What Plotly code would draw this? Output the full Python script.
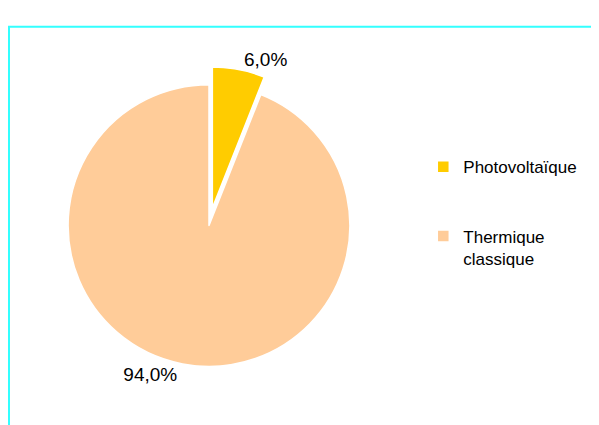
import plotly.graph_objects as go

# part de production électrique
names = ['Photovoltaïque', 'Thermique classique']
legend_labels = ['Photovoltaïque<br> <br> ', 'Thermique<br>classique']
values = [6.0, 94.0]
colors = ['#FFCC00', '#FFCC99']
pulls = [0.127, 0]

fig = go.Figure()

# la page ajoute une marge de 8 px : les positions ci-dessous en tiennent compte
fig.add_trace(go.Pie(
    labels=legend_labels,
    values=values,
    customdata=names,
    pull=pulls,
    sort=False,
    direction='clockwise',
    rotation=0,
    marker=dict(colors=colors, line=dict(color='white', width=1.5)),
    texttemplate='%{percent:.1%}',
    textposition='outside',
    outsidetextfont=dict(size=19, color='#000000'),
    domain=dict(x=[0.0628, 0.6083], y=[0.1179, 0.8868]),
    hovertemplate='%{customdata}<br>%{percent:.1%}<extra></extra>',
))

# cadre cyan (coupé à droite et en bas)
fig.add_shape(type='rect', xref='paper', yref='paper',
              x0=1 / 599, x1=1.1, y0=-0.1, y1=1 - 7 / 425,
              line=dict(color='#33FFFF', width=2), fillcolor='rgba(0,0,0,0)')

fig.update_layout(
    width=599, height=425,
    margin=dict(l=0, r=0, t=0, b=0),
    separators=',.',
    paper_bgcolor='white',
    plot_bgcolor='white',
    font=dict(family='Liberation Sans, Arial, sans-serif', size=17, color='#000000'),
    showlegend=True,
    legend=dict(
        x=0.6933, y=0.687, xanchor='left', yanchor='top',
        valign='top',
        font=dict(size=17, color='#000000'),
        bgcolor='rgba(0,0,0,0)',
    ),
)

fig.write_html('out.html')
